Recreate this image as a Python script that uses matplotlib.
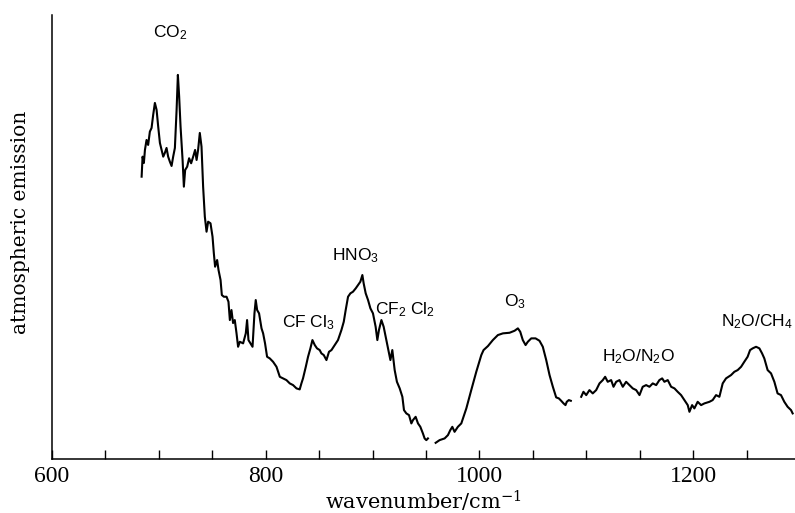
import matplotlib
matplotlib.use("Agg")
import matplotlib.pyplot as plt
from matplotlib.ticker import MultipleLocator

plt.rcParams["mathtext.fontset"] = "custom"
plt.rcParams["mathtext.rm"] = "DejaVu Serif"
plt.rcParams["mathtext.sf"] = "Liberation Sans"
plt.rcParams["mathtext.it"] = "DejaVu Serif:italic"

# Emission spectrum (arbitrary units), recorded in three separate scans
wn_co2_region = [684.1, 685.0, 686.2, 687.2, 688.7, 690.2, 691.8, 693.4, 694.9, 696.5,
                 698.1, 699.6, 701.2, 702.8, 704.3, 705.8, 707.4, 708.9, 710.5, 712.1,
                 713.6, 715.2, 716.8, 718.0, 719.2, 720.5, 722.4, 723.6, 724.8, 726.7,
                 728.5, 730.4, 732.3, 734.1, 735.5, 736.9, 738.5, 740.1, 741.6, 743.2,
                 744.8, 746.3, 748.5, 750.4, 751.6, 752.8, 754.7, 756.0, 757.9, 759.1,
                 761.0, 763.5, 765.3, 766.6, 768.1, 769.6, 771.2, 772.8, 774.3, 775.9,
                 779.0, 781.5, 782.7, 784.0, 785.9, 787.8, 789.6, 790.8, 792.1, 793.9,
                 796.2, 797.7, 799.5, 801.4, 803.9, 807.0, 810.2, 813.3, 816.3, 819.5,
                 822.6, 825.7, 828.9, 831.9, 833.5, 835.0, 837.6, 839.7, 841.9, 843.8,
                 846.0, 848.1, 850.6, 852.2, 854.4, 856.9, 859.3, 861.6, 864.6, 867.7,
                 870.9, 873.1, 874.9, 877.1, 879.3, 881.7, 884.3, 886.4, 888.6, 890.5,
                 891.7, 893.6, 895.8, 898.0, 900.4, 902.9, 904.5, 906.0, 908.3, 910.4,
                 912.9, 915.4, 916.7, 918.5, 920.7, 922.8, 925.4, 927.9, 929.4, 931.6,
                 934.1, 936.3, 937.8, 940.3, 942.5, 944.7, 947.1, 948.7, 950.3, 951.8]
em_co2_region = [282.3, 302.3, 296.0, 309.0, 319.0, 314.0, 327.3, 331.0, 344.0, 356.0,
                 349.0, 332.3, 316.0, 309.0, 302.3, 306.0, 311.0, 302.3, 297.3, 293.0,
                 302.3, 311.0, 349.0, 384.0, 362.3, 332.3, 299.0, 272.3, 289.0, 292.3,
                 300.7, 295.7, 302.3, 309.0, 299.0, 309.0, 326.0, 312.3, 272.3, 242.3,
                 227.3, 237.3, 235.7, 222.3, 206.0, 192.3, 199.0, 189.0, 179.0, 164.0,
                 162.3, 162.3, 157.3, 139.0, 149.0, 136.0, 139.0, 126.0, 112.3, 117.3,
                 115.7, 125.7, 139.0, 119.0, 115.7, 112.3, 145.7, 159.0, 149.0, 145.7,
                 130.7, 125.7, 115.7, 102.3, 100.7, 97.3, 92.3, 82.3, 80.7, 79.0,
                 75.7, 74.0, 70.7, 69.7, 75.7, 80.7, 92.3, 102.3, 110.7, 119.0,
                 114.0, 110.7, 109.0, 105.7, 104.0, 99.0, 107.3, 109.0, 114.0, 119.0,
                 129.0, 137.3, 149.0, 162.3, 165.7, 167.3, 170.7, 174.0, 177.3, 184.0,
                 175.7, 165.7, 159.0, 150.7, 145.7, 132.3, 119.0, 129.0, 139.0, 132.3,
                 119.0, 105.7, 99.0, 109.0, 89.0, 77.3, 70.7, 62.3, 49.0, 45.7,
                 44.0, 35.7, 39.0, 42.3, 35.7, 32.3, 25.7, 20.7, 19.0, 20.7]

wn_o3_region = [959.0, 962.7, 967.4, 970.5, 972.7, 974.6, 976.7, 979.8, 983.0, 987.7,
                992.3, 997.0, 1001.7, 1003.8, 1007.9, 1012.5, 1017.2, 1021.9, 1028.1, 1032.8,
                1035.9, 1038.1, 1040.5, 1043.1, 1045.2, 1048.4, 1052.4, 1056.1, 1059.2, 1062.4,
                1065.5, 1068.6, 1071.7, 1074.2, 1076.4, 1078.6, 1080.4, 1081.6, 1083.5, 1085.4]
em_o3_region = [16.3, 19.0, 20.7, 24.0, 29.0, 32.3, 27.3, 32.3, 35.7, 50.7,
                69.0, 87.3, 104.0, 109.0, 113.0, 119.0, 124.0, 125.7, 126.3, 128.3,
                130.7, 127.3, 119.0, 114.0, 117.3, 120.7, 120.7, 118.3, 112.3, 99.0,
                84.0, 72.3, 61.7, 60.7, 58.3, 55.7, 54.0, 57.3, 59.0, 58.3]

wn_n2o_region = [1095.1, 1097.2, 1099.8, 1102.8, 1105.9, 1109.1, 1112.2, 1115.3, 1117.5, 1119.9,
                 1123.1, 1125.3, 1127.8, 1130.9, 1134.0, 1137.1, 1140.2, 1143.3, 1146.5, 1149.6,
                 1152.6, 1155.8, 1158.9, 1162.0, 1165.2, 1168.2, 1170.8, 1172.9, 1176.0, 1179.2,
                 1182.3, 1185.3, 1188.5, 1191.6, 1194.7, 1196.3, 1198.8, 1200.9, 1204.0, 1207.2,
                 1210.3, 1215.0, 1218.0, 1221.2, 1224.3, 1227.4, 1230.5, 1235.2, 1238.3, 1241.4,
                 1244.6, 1247.6, 1250.7, 1253.0, 1255.4, 1258.6, 1261.7, 1264.2, 1266.3, 1269.4,
                 1272.6, 1275.7, 1278.7, 1281.9, 1285.0, 1288.1, 1291.3, 1292.8]
em_n2o_region = [62.3, 67.3, 64.0, 69.0, 65.7, 69.0, 75.7, 79.0, 82.3, 77.3,
                 79.0, 72.3, 77.3, 79.0, 72.3, 77.3, 74.0, 70.7, 69.0, 64.0,
                 72.3, 74.0, 72.3, 75.7, 74.0, 79.0, 80.7, 77.3, 79.0, 72.3,
                 70.7, 67.3, 64.0, 59.0, 54.0, 47.3, 54.0, 50.7, 57.3, 54.0,
                 55.7, 57.3, 59.0, 64.0, 62.3, 75.7, 80.7, 84.0, 87.3, 89.0,
                 92.3, 97.3, 102.3, 109.0, 110.7, 112.3, 110.7, 105.7, 100.7, 89.0,
                 85.7, 77.3, 65.7, 64.0, 57.3, 52.3, 49.0, 45.7]

# Band assignments: label, wavenumber, emission level of the label centre
band_labels = ["CO$_\\mathsf{2}$", "CF Cl$_\\mathsf{3}$", "HNO$_\\mathsf{3}$",
               "CF$_\\mathsf{2}$ Cl$_\\mathsf{2}$", "O$_\\mathsf{3}$",
               "H$_\\mathsf{2}$O/N$_\\mathsf{2}$O", "N$_\\mathsf{2}$O/CH$_\\mathsf{4}$"]
band_wn = [710.5, 839.7, 883.8, 930.0, 1033.3, 1148.6, 1259.3]
band_em = [426, 136, 203, 149, 157, 102, 137]

xticks_major = [600, 800, 1000, 1200]

fig = plt.figure(figsize=(7.95, 5.13), dpi=100)
ax = fig.add_axes([0.065, 0.105, 0.935, 0.866])

for wn, em in [(wn_co2_region, em_co2_region),
               (wn_o3_region, em_o3_region),
               (wn_n2o_region, em_n2o_region)]:
    ax.plot(wn, em, color="black", lw=1.5, solid_joinstyle="round")

for lab, x, y in zip(band_labels, band_wn, band_em):
    ax.text(x, y, lab, ha="center", va="center", fontsize=12.5,
            family="Liberation Sans")

ax.set_xlim(600, 1295)
ax.set_ylim(0, 444)
ax.set_xticks(xticks_major)
ax.xaxis.set_minor_locator(MultipleLocator(50))
ax.set_yticks([])
ax.tick_params(axis="x", which="both", direction="in", length=6.5, width=1.0,
               pad=5)
for lab in ax.get_xticklabels():
    lab.set_family("Liberation Serif")
    lab.set_fontsize(17)

for side in ["top", "right"]:
    ax.spines[side].set_visible(False)
for side in ["left", "bottom"]:
    ax.spines[side].set_linewidth(1.1)

fig.text(423 / 795, (513 - 509) / 513, "wavenumber/cm$^{-1}$", ha="center",
         va="baseline", family="DejaVu Serif", fontsize=15)
fig.text(21 / 795, 1 - 222 / 513, "atmospheric emission", rotation=90,
         ha="center", va="center", family="DejaVu Serif", fontsize=14.5)

fig.savefig("out.png", dpi=100)
